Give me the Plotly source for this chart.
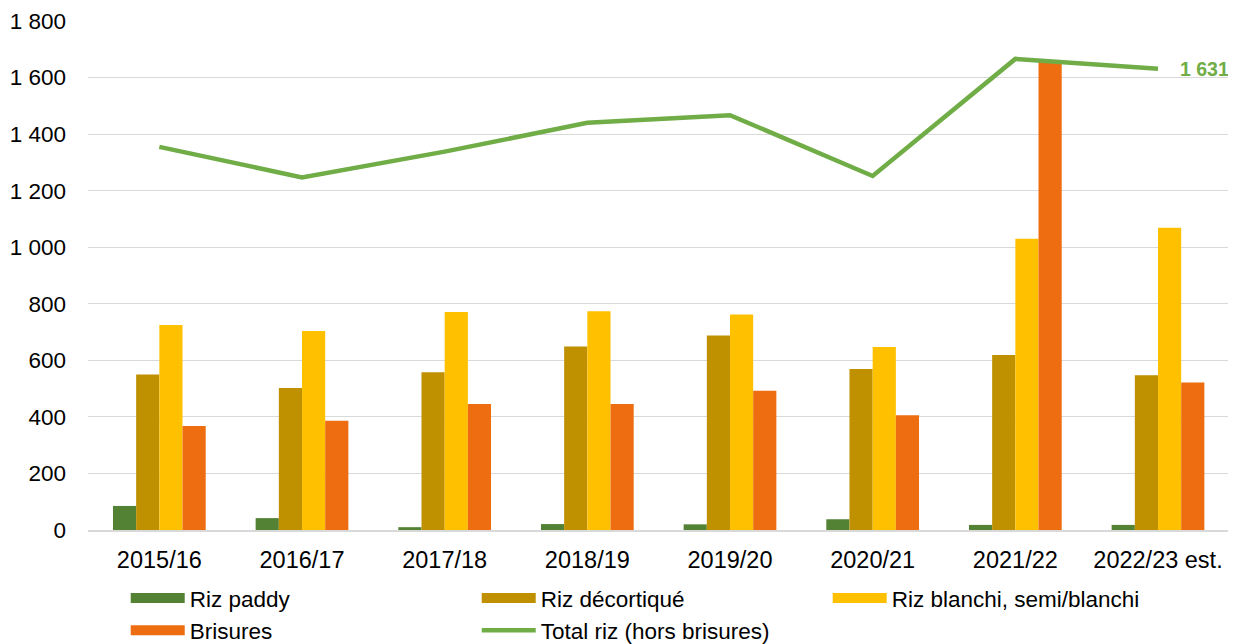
import plotly.graph_objects as go

categories = ["2015/16", "2016/17", "2017/18", "2018/19", "2019/20", "2020/21", "2021/22", "2022/23 est."]
riz_paddy = [85, 42, 10, 21, 20, 38, 18, 18]
riz_decortique = [550, 502, 558, 649, 688, 569, 619, 547]
riz_blanchi = [725, 704, 771, 774, 762, 647, 1030, 1069]
brisures = [368, 386, 446, 446, 492, 406, 1655, 522]
total_riz = [1355, 1247, 1338, 1440, 1467, 1252, 1666, 1631]
y_ticks = [0, 200, 400, 600, 800, 1000, 1200, 1400, 1600, 1800]

names = ["Riz paddy", "Riz décortiqué", "Riz blanchi, semi/blanchi", "Brisures"]
colors = ["#548235", "#BF9000", "#FFC000", "#ED6D10"]
series = [riz_paddy, riz_decortique, riz_blanchi, brisures]
line_color = "#70AD47"
FONT = "Liberation Sans, Arial"

fig = go.Figure()
for n, c, s in zip(names, colors, series):
    fig.add_trace(go.Bar(x=categories, y=s, name=n, marker=dict(color=c, line=dict(width=0)),
                         showlegend=False))

fig.add_trace(go.Scatter(x=categories, y=total_riz, mode="lines", name="Total riz (hors brisures)",
                         line=dict(color=line_color, width=4.5), showlegend=False))

# legend entries (order: paddy, décortiqué, blanchi, brisures, total)
for n, c in zip(names, colors):
    fig.add_trace(go.Scatter(x=[None], y=[None], mode="lines", name=n,
                             line=dict(color=c, width=12)))
fig.add_trace(go.Scatter(x=[None], y=[None], mode="lines", name="Total riz (hors brisures)",
                         line=dict(color=line_color, width=4.5)))

fig.add_annotation(x=categories[-1], y=total_riz[-1], text="<b>1 631</b>", showarrow=False,
                   xanchor="left", yanchor="middle", xshift=20,
                   font=dict(color=line_color, size=19.5, family=FONT))

fig.update_layout(
    width=1228, height=636,
    margin=dict(l=80, r=5, t=13, b=114, autoexpand=False),
    paper_bgcolor="white", plot_bgcolor="white",
    separators=", ",
    barmode="group", bargap=0.35, bargroupgap=0,
    font=dict(family=FONT, size=23, color="#000000"),
    showlegend=True,
    legend=dict(orientation="h", x=0.033, y=-0.092, xanchor="left", yanchor="top",
                entrywidth=282, entrywidthmode="pixels", itemwidth=54,
                font=dict(size=22.5), tracegroupgap=0, bgcolor="rgba(0,0,0,0)"),
)
fig.update_xaxes(showgrid=False, showline=True, linecolor="#D9D9D9", linewidth=1.5,
                 ticks="", tickfont=dict(size=23.5), ticklabelstandoff=8)
fig.update_yaxes(range=[0, 1800], tickvals=y_ticks, tickformat=",d", showgrid=True,
                 gridcolor="#D9D9D9", gridwidth=1.3, zeroline=False, showline=False,
                 ticks="", tickfont=dict(size=22.5), ticklabelstandoff=21)

fig.write_html("out.html")
